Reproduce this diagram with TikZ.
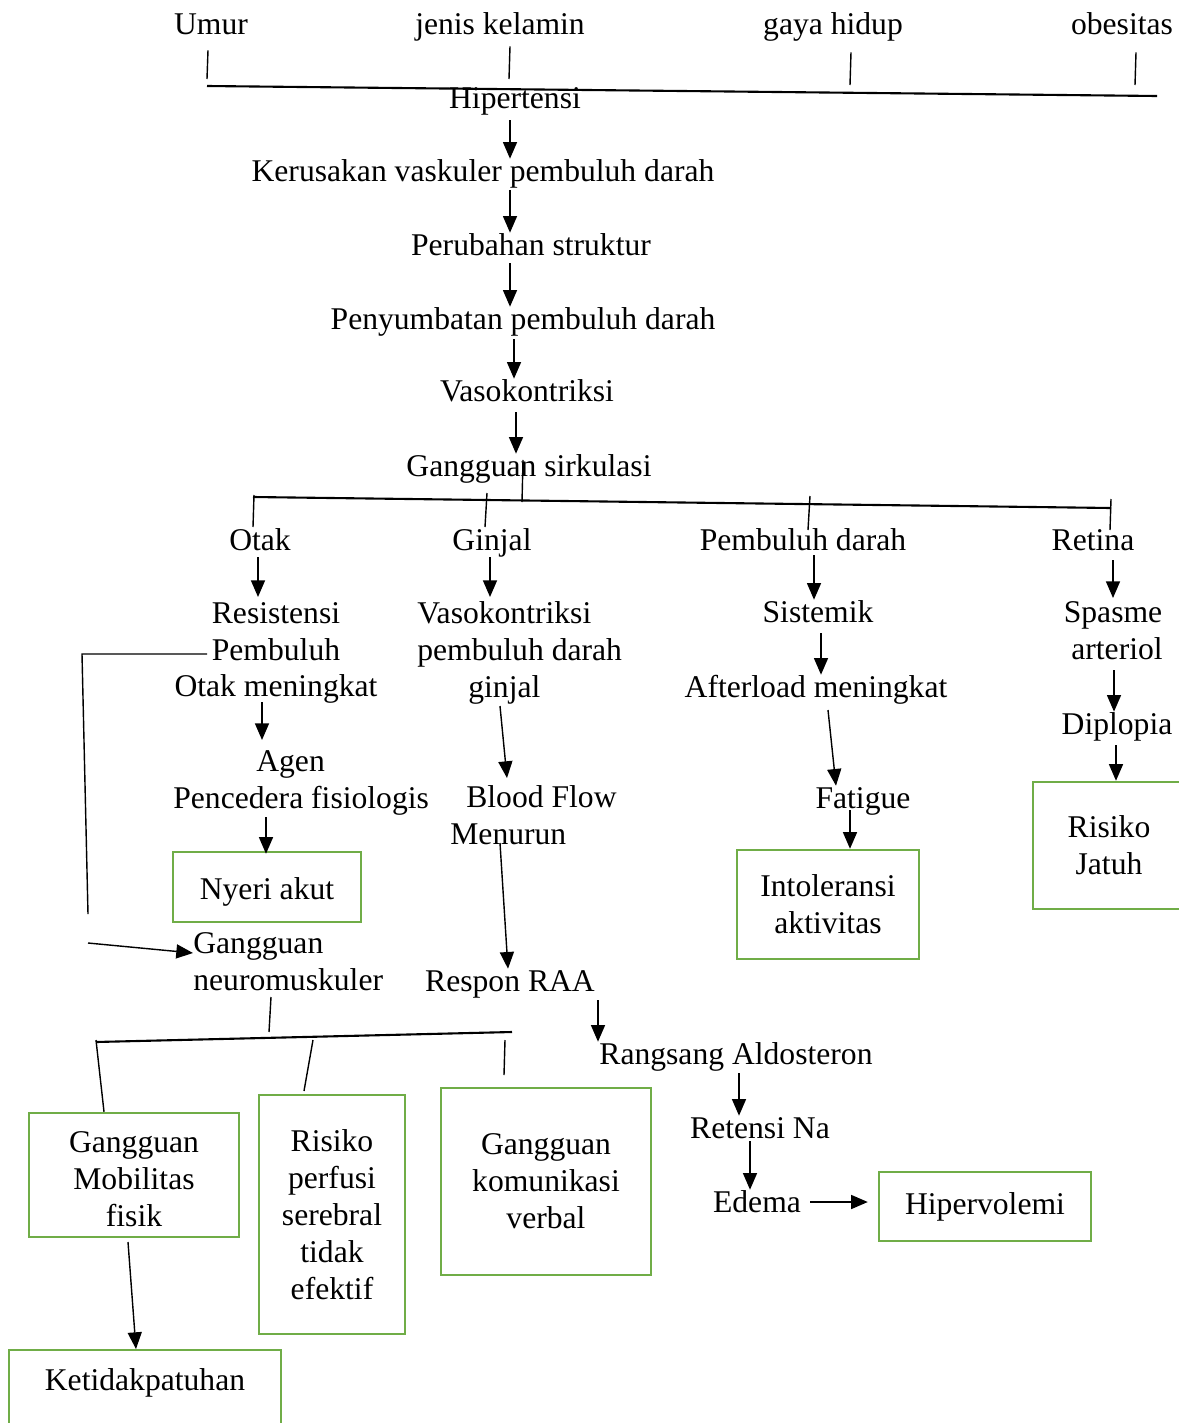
\documentclass[tikz,border=0pt]{standalone}
\usepackage{fontspec}
\setmainfont{Liberation Serif}
\usetikzlibrary{arrows.meta,calc}
\definecolor{boxgreen}{HTML}{70AD47}
\begin{document}
\begin{tikzpicture}[x=0.02cm,y=-0.02cm,
  every node/.style={font=\fontsize{18}{21}\selectfont, inner sep=0pt},
  txt/.style={text height=13pt, text depth=4pt, yshift=-1.7pt},
  mtxt/.style={align=center},
  ltxt/.style={align=left, anchor=west},
  gbox/.style={draw=boxgreen, line width=1.4pt, align=center},
  ln/.style={line width=0.8pt},
  bus/.style={line width=1.2pt},
  arr/.style={line width=0.8pt, -{Triangle[width=8pt,length=9.5pt]}}]
\useasboundingbox (0,0) rectangle (1178,1423);

% top factors
\node[txt] (umur) at (211,24) {Umur};
\node[txt] (jk) at (500,24) {jenis kelamin};
\node[txt] (gh) at (833,24) {gaya hidup};
\node[txt] (ob) at (1122,24) {obesitas};
\coordinate (busL) at (207,86);
\coordinate (busR) at (1157,96);
\draw[bus] (busL) -- (busR);
\draw[ln] ($(umur.south -| 208,0)+(0,8)$) -- (207,79);
\draw[ln] ($(jk.south -| 510,0)+(0,4)$) -- (509,79);
\draw[ln] ($(gh.south -| 851,0)+(0,10)$) -- (850,85);
\draw[ln] ($(ob.south -| 1136,0)+(0,10)$) -- (1135,85);

% main chain
\node[txt] (hip) at (515,98) {Hipertensi};
\node[txt] (ker) at (483,171) {Kerusakan vaskuler pembuluh darah};
\node[txt] (per) at (531,245) {Perubahan struktur};
\node[txt] (pen) at (523,319) {Penyumbatan pembuluh darah};
\node[txt] (vas) at (527,391) {Vasokontriksi};
\node[txt] (gs) at (529,466) {Gangguan sirkulasi};
\draw[arr] (510,120) -- (ker.north -| 510,0);
\draw[arr] (510,190) -- (per.north -| 510,0);
\draw[arr] (510,263) -- (pen.north -| 510,0);
\draw[arr] (514,339) -- (vas.north -| 514,0);
\draw[arr] (516,412) -- (gs.north -| 516,0);

% branch
\coordinate (brL) at (253,497);
\coordinate (brR) at (1111,508);
\draw[bus] (brL) -- (brR);
\draw[ln] (gs.center -| 523,0) ++(0,-9) -- (522,502);
\node[txt] (otak) at (260,540) {Otak};
\node[txt] (ginjal) at (492,540) {Ginjal};
\node[txt] (pd) at (803,540) {Pembuluh darah};
\node[txt] (ret) at (1093,540) {Retina};
\draw[ln] (254,495) -- (253,527);
\draw[ln] (487,493) -- (485,527);
\draw[ln] (810,496) -- (808,530);
\draw[ln] (1111,499) -- (1110,530);

% Otak column
\node[mtxt] (res) at (276,653) {Resistensi\\Pembuluh\hspace*{0.2cm}\\Otak meningkat};
\node[ltxt] (agen) at (173,783) {\hspace*{1.66cm}Agen\\Pencedera fisiologis};
\node[gbox, minimum width=3.76cm, minimum height=1.4cm, text height=18.6pt, text depth=4pt] (nyeri) at (267,887) {Nyeri akut};
\draw[arr] (258,557) -- (258,597);
\draw[arr] (262,702) -- (262,740);
\draw[arr] (266,817) -- ($(nyeri.north -| 266,0)+(0,3)$);
\coordinate (loopA) at (82,654);
\coordinate (loopB) at (88,914);
\draw[ln] (207,654) -- (loopA) -- (loopB);
\node[ltxt] (gn) at (193,962) {Gangguan\\neuromuskuler};
\draw[arr] (88,943) -- (gn.west |- 0,953);

% lower bracket
\coordinate (b2L) at (96,1042);
\coordinate (b2R) at (512,1032);
\draw[ln] (271,997) -- (269,1032);
\draw[bus] (b2L) -- (b2R);
\node[gbox, minimum width=4.2cm, minimum height=2.48cm] (mob) at (134,1175) {\rule{0pt}{17pt}Gangguan\\Mobilitas\\fisik};
\node[gbox, minimum width=2.92cm, minimum height=4.78cm] (rp) at (332,1214.5) {Risiko\\perfusi\\serebral\\tidak\\efektif};
\node[gbox, minimum width=4.2cm, minimum height=3.74cm] (gkv) at (546,1181.5) {Gangguan\\komunikasi\\verbal};
\draw[ln] (96,1040) -- (mob.north -| 104,0);
\draw[ln] (313,1040) -- (304,1091);
\draw[ln] (505,1040) -- (504,1075);
\node[gbox, anchor=north, minimum width=5.44cm, text height=0.8cm, text depth=1.1cm] (ket) at (145,1349) {Ketidakpatuhan};
\draw[arr] (128,1242) -- (ket.north -| 136,0);

% Ginjal column
\node[ltxt] (vpg) at (417,653) {Vasokontriksi\\pembuluh darah\\\hspace*{1.02cm}ginjal};
\node[ltxt] (bf) at (450,815) {\hspace*{0.32cm}Blood Flow\\Menurun};
\node[txt] (raa) at (510,981) {Respon RAA};
\node[txt] (ra) at (736,1054) {Rangsang Aldosteron};
\node[txt] (rn) at (760,1128) {Retensi Na};
\node[txt] (ed) at (757,1202) {Edema};
\node[gbox, minimum width=4.24cm, minimum height=1.38cm] (hv) at (985,1206.5) {Hipervolemi};
\draw[arr] (490,557) -- (490,597);
\draw[arr] (500,706) -- (507,778);
\draw[arr] (500,843) -- (raa.north -| 508,0);
\draw[arr] (598,1000) -- (ra.north -| 598,0);
\draw[arr] (739,1073) -- (rn.north -| 739,0);
\draw[arr] (750,1141) -- (ed.north -| 750,0);
\draw[arr] (810,1202) -- ($(hv.west |- 0,1202)+(-10,0)$);

% Pembuluh darah column
\node[txt] (sis) at (818,612) {Sistemik};
\node[txt] (al) at (816,687) {Afterload meningkat};
\node[txt] (fat) at (863,798) {Fatigue};
\node[gbox, minimum width=3.64cm, minimum height=2.18cm] (int) at (828,904.5) {Intoleransi\\aktivitas};
\draw[arr] (814,555) -- (sis.north -| 814,0);
\draw[arr] (821,633) -- (al.north -| 821,0);
\draw[arr] (828,710) -- (fat.north -| 836,0);
\draw[arr] (850,810) -- (int.north -| 850,0);

% Retina column
\node[mtxt] (sa) at (1113,631) {Spasme\\\hspace*{0.16cm}arteriol};
\node[txt] (dip) at (1117,724) {Diplopia};
\node[gbox, minimum width=3.04cm, minimum height=2.54cm] (rj) at (1109,845.5) {Risiko\\Jatuh};
\draw[arr] (1113,560) -- (1113,598);
\draw[arr] (1114,670) -- (dip.north -| 1114,0);
\draw[arr] (1116,745) -- (rj.north -| 1116,0);
\end{tikzpicture}
\end{document}
